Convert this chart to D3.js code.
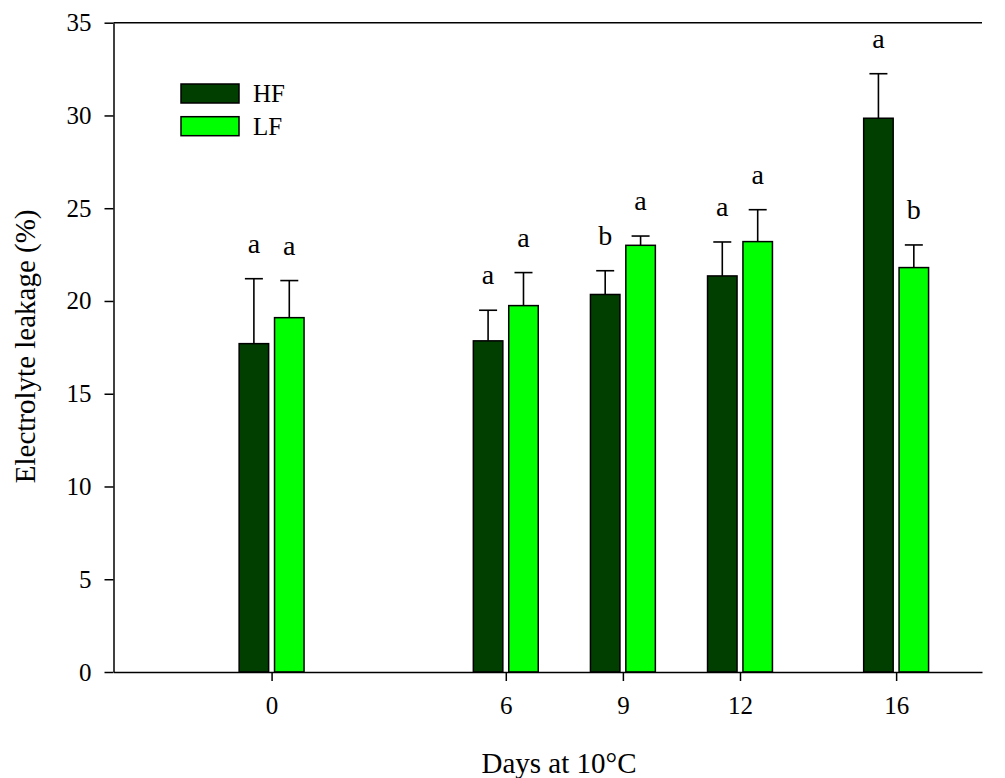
<!DOCTYPE html>
<html>
<head>
<meta charset="utf-8">
<script src="https://cdn.jsdelivr.net/npm/d3@7"></script>
<style>
  body { margin: 0; background: #fff; }
  svg text { font-family: "Liberation Serif", "DejaVu Serif", serif !important; fill: #000; }
</style>
</head>
<body>
<div id="chart"></div>
<script>
// data
const days = [0, 6, 9, 12, 16];
const hfMean = [17.7, 17.85, 20.35, 21.35, 29.85];
const hfErr = [3.5, 1.65, 1.28, 1.83, 2.4];
const lfMean = [19.1, 19.75, 23.0, 23.2, 21.8];
const lfErr = [2.0, 1.78, 0.5, 1.72, 1.22];
const hfLetters = ['a', 'a', 'b', 'a', 'a'];
const lfLetters = ['a', 'a', 'a', 'a', 'b'];
const yTicks = [0, 5, 10, 15, 20, 25, 30, 35];
const seriesNames = ['HF', 'LF'];
const seriesColors = ['#003f00', '#00ff00'];

const width = 1005, height = 778;
const margin = { left: 113.5, right: 23, top: 22.7, bottom: 106 };

const svg = d3.select('#chart').append('svg')
    .attr('width', width)
    .attr('height', height);

const x = d3.scaleLinear()
    .domain([-4.05, 18.2])
    .range([margin.left, width - margin.right]);

const y = d3.scaleLinear()
    .domain([0, 35])
    .range([height - margin.bottom, margin.top]);

const barW = 29.5;
const offset = 17.7;

// frame top line
svg.append('line')
    .attr('x1', x.range()[0]).attr('x2', x.range()[1])
    .attr('y1', y(35)).attr('y2', y(35))
    .attr('stroke', '#000').attr('stroke-width', 1.5);

// bars
const series = [
    { name: 'HF', mean: hfMean, err: hfErr, letters: hfLetters, color: seriesColors[0], dx: -offset },
    { name: 'LF', mean: lfMean, err: lfErr, letters: lfLetters, color: seriesColors[1], dx: offset }
];

series.forEach(s => {
    const g = svg.append('g');
    const rows = days.map((d, i) => ({ day: d, mean: s.mean[i], err: s.err[i], letter: s.letters[i] }));

    // error bars (upper only)
    g.selectAll('.err')
        .data(rows)
        .enter().append('line')
        .attr('x1', d => x(d.day) + s.dx)
        .attr('x2', d => x(d.day) + s.dx)
        .attr('y1', d => y(d.mean))
        .attr('y2', d => y(d.mean + d.err))
        .attr('stroke', '#000').attr('stroke-width', 1.6);

    g.selectAll('.cap')
        .data(rows)
        .enter().append('line')
        .attr('x1', d => x(d.day) + s.dx - 9)
        .attr('x2', d => x(d.day) + s.dx + 9)
        .attr('y1', d => y(d.mean + d.err))
        .attr('y2', d => y(d.mean + d.err))
        .attr('stroke', '#000').attr('stroke-width', 1.6);

    g.selectAll('rect')
        .data(rows)
        .enter().append('rect')
        .attr('x', d => x(d.day) + s.dx - barW / 2)
        .attr('y', d => y(d.mean))
        .attr('width', barW)
        .attr('height', d => y(0) - y(d.mean))
        .attr('fill', s.color)
        .attr('stroke', '#000').attr('stroke-width', 1.5);

    g.selectAll('.letter')
        .data(rows)
        .enter().append('text')
        .attr('x', d => x(d.day) + s.dx)
        .attr('y', d => y(d.mean + d.err) - 26)
        .attr('text-anchor', 'middle')
        .attr('font-size', 28)
        .text(d => d.letter);
});

// axes
const xAxis = svg.append('g')
    .attr('transform', `translate(0,${y(0)})`)
    .call(d3.axisBottom(x).tickValues(days).tickSize(9).tickSizeOuter(0).tickPadding(15).tickFormat(d3.format('d')));
xAxis.select('.domain').attr('stroke-width', 1.5);
xAxis.selectAll('.tick line').attr('stroke-width', 1.5);
xAxis.selectAll('text').attr('font-size', 25);

const yAxis = svg.append('g')
    .attr('transform', `translate(${margin.left},0)`)
    .call(d3.axisLeft(y).tickValues(yTicks).tickSize(9).tickSizeOuter(0).tickPadding(13));
yAxis.select('.domain').attr('stroke-width', 1.5);
yAxis.selectAll('.tick line').attr('stroke-width', 1.5);
yAxis.selectAll('text').attr('font-size', 25);

// axis titles
svg.append('text')
    .attr('x', 559)
    .attr('y', 773)
    .attr('text-anchor', 'middle')
    .attr('font-size', 29)
    .text('Days at 10°C');

svg.append('text')
    .attr('transform', `translate(35,${(y(0) + y(35)) / 2 - 1}) rotate(-90)`)
    .attr('text-anchor', 'middle')
    .attr('font-size', 29)
    .text('Electrolyte leakage (%)');

// legend
const legend = svg.append('g').attr('transform', 'translate(181,84)');
seriesNames.forEach((name, i) => {
    legend.append('rect')
        .attr('x', 0).attr('y', i * 32.7)
        .attr('width', 58).attr('height', 19)
        .attr('fill', seriesColors[i])
        .attr('stroke', '#000').attr('stroke-width', 1.5);
    legend.append('text')
        .attr('x', 72).attr('y', i * 32.7 + 18)
        .attr('font-size', 25)
        .text(name);
});
</script>
</body>
</html>
